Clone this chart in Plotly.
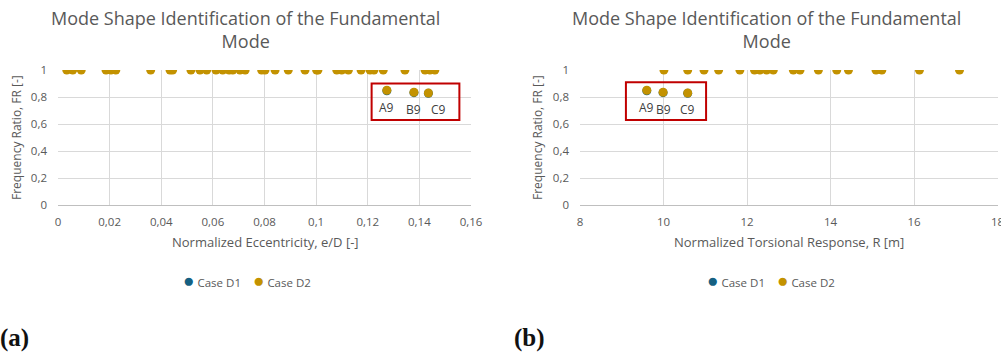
import plotly.graph_objects as go

# Normalized eccentricity e/D and frequency ratio FR (panel a)
ecc_d2 = [0.0034, 0.0057, 0.0090, 0.0186, 0.0205, 0.0224, 0.0359, 0.0434, 0.0444,
          0.0515, 0.0550, 0.0576, 0.0612, 0.0638, 0.0663, 0.0677, 0.0705, 0.0725,
          0.0789, 0.0802, 0.0841, 0.0892, 0.0957, 0.1002, 0.1007, 0.1080, 0.1099,
          0.1125, 0.1174, 0.1209, 0.1224, 0.1260, 0.1344, 0.1422, 0.1441, 0.1460]
fr_ecc_d2 = [1.0] * len(ecc_d2)

# Normalized torsional response R [m] and frequency ratio FR (panel b)
tor_d2 = [10.01, 10.58, 10.97, 11.32, 11.83, 12.18, 12.31, 12.47, 12.63,
          13.11, 13.27, 13.71, 14.15, 14.43, 15.09, 15.23, 16.13, 17.09]
fr_tor_d2 = [1.0] * len(tor_d2)

# Highlighted cases (fundamental mode not purely translational)
case_names = ["A9", "B9", "C9"]
case_ecc = [0.1274, 0.1379, 0.1435]
case_tor = [9.60, 9.99, 10.58]
case_fr_d2 = [0.85, 0.835, 0.83]
case_fr_d1 = [0.846, 0.832, 0.827]

x_ticks_a = [0, 0.02, 0.04, 0.06, 0.08, 0.10, 0.12, 0.14, 0.16]
x_ticks_b = [8, 10, 12, 14, 16, 18]
y_ticks = [0, 0.2, 0.4, 0.6, 0.8, 1.0]

BLUE = "#156082"
GOLD = "#C39200"
GREY = "#595959"
GRID = "#D9D9D9"
FONT = "Open Sans"
W, H = 1001, 356


def px(x):
    return x / W


def py(y):
    return 1 - y / H


fig = go.Figure()

# Panel (a)
fig.add_trace(go.Scatter(x=case_ecc, y=case_fr_d1, mode="markers", name="Case D1",
                         marker=dict(color=BLUE, size=9), xaxis="x", yaxis="y"))
fig.add_trace(go.Scatter(x=ecc_d2 + case_ecc, y=fr_ecc_d2 + case_fr_d2, mode="markers",
                         name="Case D2", marker=dict(color=GOLD, size=9),
                         xaxis="x", yaxis="y"))
# Panel (b)
fig.add_trace(go.Scatter(x=case_tor, y=case_fr_d1, mode="markers", name="Case D1",
                         marker=dict(color=BLUE, size=9), xaxis="x2", yaxis="y2"))
fig.add_trace(go.Scatter(x=tor_d2 + case_tor, y=fr_tor_d2 + case_fr_d2, mode="markers",
                         name="Case D2", marker=dict(color=GOLD, size=9),
                         xaxis="x2", yaxis="y2"))

axis_common = dict(showgrid=True, gridcolor=GRID, gridwidth=1, zeroline=False,
                   ticks="", tickfont=dict(family=FONT, size=11.5, color=GREY),
                   fixedrange=True, automargin=False, ticklabeloverflow="allow")
xaxis_common = dict(axis_common, showline=True, linecolor="#BFBFBF", linewidth=1,
                    ticklabelstandoff=6)
yaxis_common = dict(axis_common, showline=False, tickvals=y_ticks,
                    range=[0, 1.0], ticklabelstandoff=10)

ydom = [py(205), py(70)]

layout_axes = dict(
    xaxis=dict(xaxis_common, domain=[px(58), px(471)], range=[0, 0.16],
               tickvals=x_ticks_a, anchor="y"),
    yaxis=dict(yaxis_common, domain=ydom, anchor="x"),
    xaxis2=dict(xaxis_common, domain=[px(580), px(997.5)], range=[8, 18],
                tickvals=x_ticks_b, anchor="y2"),
    yaxis2=dict(yaxis_common, domain=ydom, anchor="x2"),
)

annotations = []
shapes = []

title_text = "Mode Shape Identification of the Fundamental<br>Mode"
for cx in (245, 766):
    annotations.append(dict(text=title_text, x=px(cx), y=py(30), xref="paper", yref="paper",
                            xanchor="center", yanchor="middle", showarrow=False,
                            font=dict(family=FONT, size=18, color=GREY)))

# Axis titles
annotations.append(dict(text="Normalized Eccentricity, e/D [-]", x=px(265), y=py(242),
                        xref="paper", yref="paper", xanchor="center", yanchor="middle",
                        showarrow=False, font=dict(family=FONT, size=13, color=GREY)))
annotations.append(dict(text="Normalized Torsional Response, R [m]", x=px(789), y=py(242),
                        xref="paper", yref="paper", xanchor="center", yanchor="middle",
                        showarrow=False, font=dict(family=FONT, size=13, color=GREY)))
for xp in (17, 538):
    annotations.append(dict(text="Frequency Ratio, FR [-]", x=px(xp), y=py(138),
                            xref="paper", yref="paper", xanchor="center", yanchor="middle",
                            textangle=-90, showarrow=False,
                            font=dict(family=FONT, size=12, color=GREY)))

# Legends, one per panel
legend_text = (f"<span style='color:{BLUE};font-size:19px'>●</span> Case D1    "
               f"<span style='color:{GOLD};font-size:19px'>●</span> Case D2")
for cx in (247, 771):
    annotations.append(dict(text=legend_text, x=px(cx), y=py(280), xref="paper", yref="paper",
                            xanchor="center", yanchor="middle", showarrow=False,
                            font=dict(family=FONT, size=11.5, color=GREY)))

# Case labels and highlight boxes
label_shift_a = [0, 0, 10]
for name, xv, yv, dx in zip(case_names, case_ecc, case_fr_d2, label_shift_a):
    annotations.append(dict(text=name, x=xv, y=yv, xref="x", yref="y", showarrow=False,
                            xshift=dx, yshift=-17, xanchor="center", yanchor="middle",
                            font=dict(family=FONT, size=12, color="#404040")))
for name, xv, yv in zip(case_names, case_tor, case_fr_d2):
    annotations.append(dict(text=name, x=xv, y=yv, xref="x2", yref="y2", showarrow=False,
                            yshift=-17, xanchor="center", yanchor="middle",
                            font=dict(family=FONT, size=12, color="#404040")))

shapes.append(dict(type="rect", xref="x", yref="y", x0=0.1215, x1=0.1555, y0=0.63, y1=0.90,
                   line=dict(color="#C00000", width=2)))
shapes.append(dict(type="rect", xref="x2", yref="y2", x0=9.10, x1=11.02, y0=0.63, y1=0.91,
                   line=dict(color="#C00000", width=2)))

# Sub-figure tags
for tag, xp in (("(a)", -2), ("(b)", 512)):
    annotations.append(dict(text=f"<b>{tag}</b>", x=px(xp), y=py(338), xref="paper",
                            yref="paper", xanchor="left", yanchor="middle", showarrow=False,
                            font=dict(family="Liberation Serif", size=25, color="#111111")))

fig.update_layout(
    width=W, height=H,
    margin=dict(l=0, r=0, t=0, b=0, pad=0),
    paper_bgcolor="white", plot_bgcolor="white",
    separators=",.",
    showlegend=False,
    annotations=annotations,
    shapes=shapes,
    **layout_axes,
)

fig.write_html("out.html")
